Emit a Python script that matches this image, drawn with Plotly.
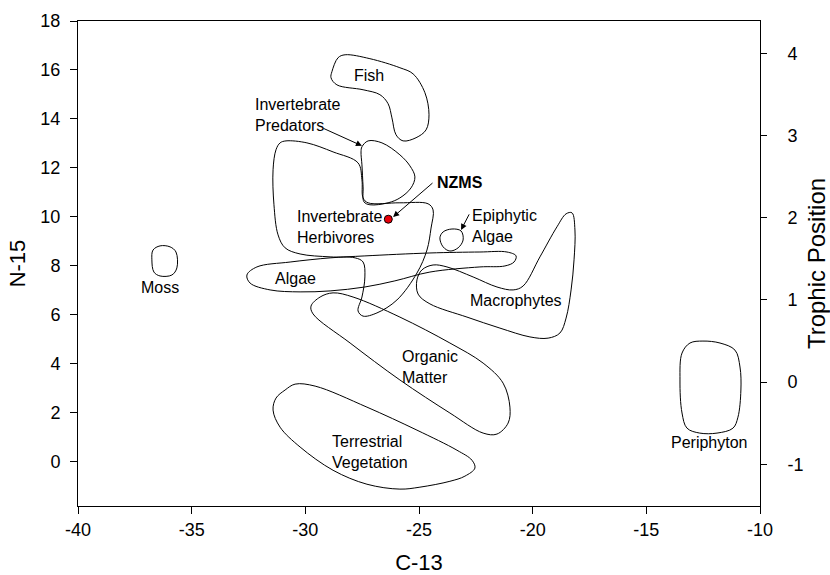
import plotly.graph_objects as go

# ---- Data: outlines of isotope groups (C-13, N-15) ----
moss_x = [-36.39, -35.95, -35.69, -35.65, -35.87, -36.39, -36.66, -36.75, -36.70]
moss_y = [8.81, 8.77, 8.56, 7.91, 7.62, 7.58, 7.74, 8.24, 8.64]

fish_x = [-28.83, -28.56, -28.25, -27.16, -25.84, -25.26, -24.74, -24.56, -24.69, -25.13,
          -25.70, -26.01, -26.19, -26.36, -26.72, -27.46, -28.61, -28.87]
fish_y = [15.93, 16.50, 16.62, 16.46, 16.09, 15.84, 15.07, 14.17, 13.55, 13.23,
          13.10, 13.35, 14.04, 14.62, 14.99, 15.19, 15.39, 15.68]

pred_x = [-27.51, -27.24, -26.63, -25.84, -25.40, -25.18, -25.35, -25.84, -26.36, -27.16,
          -27.42, -27.46, -27.51, -27.55]
pred_y = [12.86, 13.10, 13.02, 12.53, 12.08, 11.63, 11.18, 10.77, 10.57, 10.49,
          10.61, 11.22, 12.12, 12.65]

herb_x = [-30.85, -29.93, -28.78, -27.68, -27.51, -27.46, -27.24, -25.84, -24.60, -24.38,
          -24.47, -24.65, -25.09, -25.97, -26.85, -27.46, -27.68, -27.51, -27.38, -27.46,
          -27.81, -28.91, -30.23, -30.89, -31.20, -31.38, -31.42, -31.29, -31.11]
herb_y = [13.10, 13.02, 12.65, 12.20, 11.51, 10.77, 10.57, 10.57, 10.53, 10.28,
          9.54, 8.64, 7.70, 6.60, 6.07, 5.94, 6.15, 6.72, 7.54, 8.15,
          8.32, 8.36, 8.48, 8.73, 9.26, 10.49, 11.92, 12.74, 13.02]

algae_x = [-32.57, -32.13, -30.67, -28.91, -27.38, -24.52, -22.32, -21.13, -20.73, -20.82,
           -21.22, -22.32, -24.52, -26.06, -27.38, -28.91, -30.23, -31.55, -32.43]
algae_y = [7.62, 7.95, 8.15, 8.32, 8.40, 8.52, 8.56, 8.56, 8.40, 8.15,
           7.99, 7.95, 7.74, 7.38, 7.13, 6.97, 6.93, 7.01, 7.29]

epi_x = [-23.94, -23.55, -23.15, -23.06, -23.28, -23.64, -23.94, -24.08]
epi_y = [9.38, 9.50, 9.42, 9.05, 8.73, 8.60, 8.77, 9.14]

macro_x = [-25.09, -24.87, -24.38, -23.77, -22.62, -21.57, -20.86, -20.42, -19.68, -18.93,
           -18.53, -18.27, -18.14, -18.18, -18.31, -18.53, -18.80, -19.32, -20.12, -21.44,
           -22.89, -24.52, -25.04]
macro_y = [7.42, 7.83, 8.03, 7.95, 7.54, 7.13, 7.01, 7.17, 8.36, 9.59,
           10.12, 10.16, 9.46, 8.24, 7.01, 5.86, 5.25, 5.04, 5.09, 5.45,
           5.90, 6.44, 6.84]

org_x = [-29.75, -29.35, -28.78, -27.90, -25.84, -23.64, -22.18, -21.30, -21.00, -21.08,
         -21.57, -22.18, -23.64, -25.84, -28.03, -29.66]
org_y = [6.35, 6.72, 6.89, 6.72, 5.90, 4.84, 4.02, 3.20, 2.22, 1.57,
         1.12, 1.16, 1.98, 3.33, 4.84, 6.03]

terr_x = [-30.89, -30.45, -29.57, -27.29, -25.09, -23.33, -22.67, -22.54, -22.98, -23.64,
          -24.96, -25.84, -27.29, -28.78, -30.23, -31.11, -31.42, -31.29]
terr_y = [2.92, 3.16, 3.08, 2.22, 1.28, 0.46, 0.05, -0.27, -0.60, -0.81,
          -1.05, -1.13, -0.93, -0.36, 0.59, 1.40, 2.10, 2.59]

peri_x = [-13.43, -13.08, -12.51, -11.76, -11.10, -10.88, -10.84, -10.97, -11.19, -11.89,
          -12.65, -13.21, -13.43, -13.52]
peri_y = [4.43, 4.84, 4.92, 4.84, 4.55, 3.86, 2.92, 1.81, 1.36, 1.16,
          1.16, 1.36, 1.98, 3.33]

nzms_x = [-26.35]
nzms_y = [9.90]

# Axis ticks (hyphen-minus labels as in the original)
x_tickvals = [-40, -35, -30, -25, -20, -15, -10]
x_ticktext = ["-40", "-35", "-30", "-25", "-20", "-15", "-10"]
y_tickvals = [0, 2, 4, 6, 8, 10, 12, 14, 16, 18]
y_ticktext = ["0", "2", "4", "6", "8", "10", "12", "14", "16", "18"]
tp_tickvals = [-1, 0, 1, 2, 3, 4]
tp_ticktext = ["-1", "0", "1", "2", "3", "4"]

# Trophic position mapping: TP = (N15 - base) / step
tp_base = 3.24
tp_step = 3.36
y_range = [-1.82, 18]

groups = [
    ("Moss", moss_x, moss_y),
    ("Fish", fish_x, fish_y),
    ("Invertebrate Predators", pred_x, pred_y),
    ("Invertebrate Herbivores", herb_x, herb_y),
    ("Algae", algae_x, algae_y),
    ("Epiphytic Algae", epi_x, epi_y),
    ("Macrophytes", macro_x, macro_y),
    ("Organic Matter", org_x, org_y),
    ("Terrestrial Vegetation", terr_x, terr_y),
    ("Periphyton", peri_x, peri_y),
]

FONT = "Liberation Sans, Arial, sans-serif"

fig = go.Figure()
for name, gx, gy in groups:
    fig.add_trace(go.Scatter(
        x=gx + gx[:1], y=gy + gy[:1], mode="lines", name=name,
        line=dict(color="black", width=1, shape="spline", smoothing=1.0),
        showlegend=False, hoverinfo="name"))

fig.add_trace(go.Scatter(
    x=nzms_x, y=nzms_y, mode="markers", name="NZMS",
    marker=dict(color="#e8000b", size=8, line=dict(color="black", width=1)),
    showlegend=False))

# invisible trace for the right axis
fig.add_trace(go.Scatter(x=[-40], y=[0], yaxis="y2", mode="markers",
                         marker=dict(opacity=0), showlegend=False, hoverinfo="skip"))

labels = [
    ("Fish", -27.20, 15.76, "center", False),
    ("Invertebrate<br>Predators", -32.30, 14.17, "left", False),
    ("Invertebrate<br>Herbivores", -30.45, 9.58, "left", False),
    ("NZMS", -24.30, 11.39, "left", True),
    ("Epiphytic<br>Algae", -22.76, 9.63, "left", False),
    ("Moss", -36.39, 7.09, "center", False),
    ("Algae", -30.45, 7.46, "center", False),
    ("Macrophytes", -20.73, 6.56, "center", False),
    ("Organic<br>Matter", -25.84, 3.87, "left", False),
    ("Terrestrial<br>Vegetation", -28.91, 0.40, "left", False),
    ("Periphyton", -12.20, 0.79, "center", False),
]
annotations = []
for text, lx, ly, anchor, bold in labels:
    annotations.append(dict(
        x=lx, y=ly, xref="x", yref="y", text=f"<b>{text}</b>" if bold else text,
        showarrow=False, xanchor=anchor, yanchor="middle", align="left",
        font=dict(family=FONT, size=16, color="black")))

arrows = [
    (-29.27, 13.64, -27.51, 12.90),
    (-24.34, 11.43, -26.14, 9.99),
    (-22.76, 10.16, -23.15, 9.46),
]
for tx, ty, hx, hy in arrows:
    annotations.append(dict(
        x=hx, y=hy, ax=tx, ay=ty, xref="x", yref="y", axref="x", ayref="y",
        text="", showarrow=True, arrowhead=2, arrowsize=1.2, arrowwidth=1,
        arrowcolor="black"))

fig.update_layout(
    width=830, height=575,
    margin=dict(l=78, r=70, t=21, b=69, autoexpand=False),
    paper_bgcolor="white", plot_bgcolor="white",
    font=dict(family=FONT, color="black"),
    annotations=annotations,
    xaxis=dict(
        range=[-40, -10], tickvals=x_tickvals, ticktext=x_ticktext,
        ticks="outside", ticklen=7, automargin=False,
        tickcolor="black", showline=True, linecolor="black", linewidth=1,
        mirror=True, showgrid=False, zeroline=False,
        tickfont=dict(size=18, family=FONT, color="black"),
        title=dict(text="C-13", font=dict(size=22, family=FONT, color="black"), standoff=22)),
    yaxis=dict(
        range=y_range, tickvals=y_tickvals, ticktext=y_ticktext,
        ticks="outside", ticklen=7, ticklabelstandoff=6, automargin=False,
        tickcolor="black", showline=True, linecolor="black", linewidth=1,
        showgrid=False, zeroline=False,
        tickfont=dict(size=18, family=FONT, color="black"),
        title=dict(text="N-15", font=dict(size=22, family=FONT, color="black"), standoff=8)),
    yaxis2=dict(
        range=[(y_range[0] - tp_base) / tp_step, (y_range[1] - tp_base) / tp_step],
        overlaying="y", side="right", tickvals=tp_tickvals, ticktext=tp_ticktext,
        ticks="outside", ticklen=6, automargin=False,
        tickcolor="black", showline=True, linecolor="black", linewidth=1,
        showgrid=False, zeroline=False, ticklabelstandoff=17,
        tickfont=dict(size=18, family=FONT, color="black"),
        title=dict(text="Trophic Position", font=dict(size=24, family=FONT, color="black"), standoff=6)),
)

fig.write_html("out.html")
